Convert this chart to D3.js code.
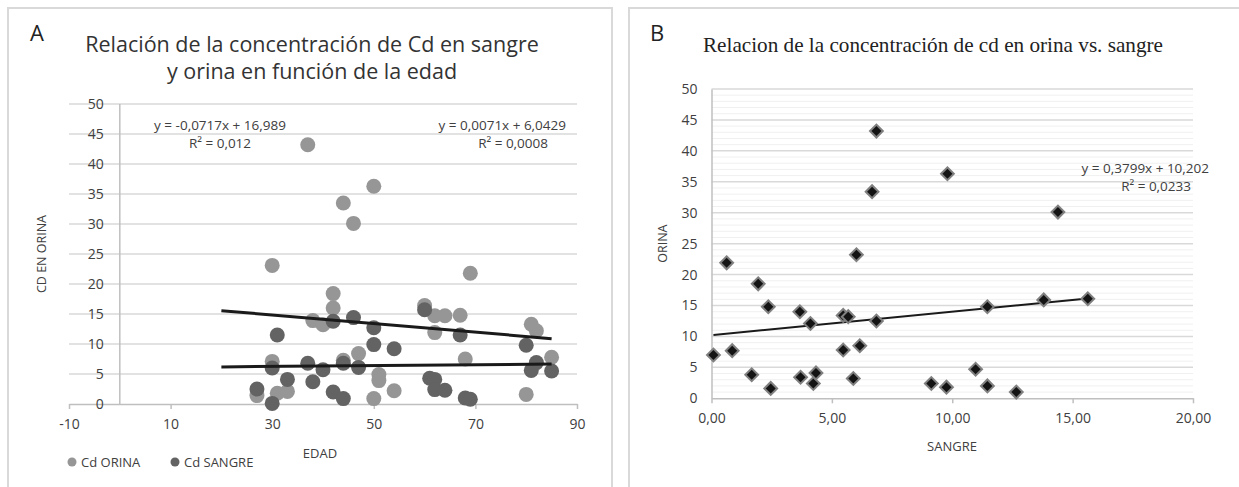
<!DOCTYPE html>
<html>
<meta charset="utf-8">
<head>
    <script src="https://d3js.org/d3.v7.min.js"></script>
</head>

<style>
  body { margin: 0; background: #fff; }
  svg text { font-family: "Open Sans", sans-serif; fill: #404040; }
  svg .grid line { stroke: #d9d9d9; stroke-width: 1.5; }
  svg .grid-minor line { stroke: #f0f0f0; stroke-width: 1; }
  svg .axis path, svg .axis line { stroke: #bfbfbf; stroke-width: 1.5; }
  svg .axis text { font-size: 14px; fill: #404040; }
  svg .frame { fill: none; stroke: #d9d9d9; stroke-width: 2; }
</style>

<body>
<script>
// Panel A: Cd en orina / sangre vs edad
var edadOrina = [37, 50, 44, 46, 30, 69, 42, 42, 60, 38, 40, 62, 64, 67, 62, 81, 82, 47, 30, 44, 68, 85, 51, 51, 31, 33, 27, 50, 54, 80];
var cdOrina   = [43.2, 36.3, 33.5, 30.1, 23.1, 21.8, 18.4, 16.0, 16.4, 13.9, 13.2, 14.7, 14.7, 14.8, 11.9, 13.3, 12.2, 8.4, 7.1, 7.3, 7.5, 7.8, 4.9, 3.9, 1.8, 2.1, 1.4, 0.9, 2.2, 1.6];

var edadSangre = [42, 46, 50, 31, 50, 54, 30, 37, 40, 44, 47, 33, 27, 30, 38, 42, 44, 60, 67, 80, 82, 81, 85, 61, 62, 62, 64, 68, 69];
var cdSangre   = [13.8, 14.4, 12.7, 11.5, 9.9, 9.2, 6.0, 6.8, 5.7, 6.8, 6.1, 4.1, 2.5, 0.1, 3.7, 2.0, 0.9, 15.7, 11.5, 9.8, 6.9, 5.6, 5.5, 4.3, 4.1, 2.4, 2.3, 1.0, 0.8];

var trendOrinaA  = { m: -0.0717, b: 16.989, x0: 20, x1: 85 };
var trendSangreA = { m: 0.0071,  b: 6.0429, x0: 20, x1: 85 };
var eqOrinaA  = ["y = -0,0717x + 16,989", "R² = 0,012"];
var eqSangreA = ["y = 0,0071x + 6,0429", "R² = 0,0008"];
var xTicksA = [-10, 10, 30, 50, 70, 90];
var yTicksA = d3.range(0, 51, 5);

// Panel B: orina vs sangre
var sangreB = [0.08, 0.63, 0.86, 1.67, 1.94, 2.36, 2.46, 3.67, 3.70, 4.11, 4.23, 4.34, 5.47, 5.68, 5.47, 5.89, 6.02, 6.16, 6.67, 6.85, 6.85,
               9.80, 14.39, 11.46, 13.80, 15.63, 10.97, 9.13, 9.76, 11.46, 12.66];
var orinaB  = [7.0, 21.9, 7.7, 3.8, 18.5, 14.8, 1.6, 14.0, 3.4, 12.1, 2.4, 4.1, 13.4, 13.2, 7.8, 3.2, 23.2, 8.5, 33.4, 43.2, 12.5,
               36.3, 30.1, 14.8, 15.9, 16.1, 4.7, 2.4, 1.8, 2.0, 1.0];
var trendB = { m: 0.3799, b: 10.202 };
var eqB = ["y = 0,3799x + 10,202", "R² = 0,0233"];
var xTicksB = [0, 5, 10, 15, 20];
var yTicksB = d3.range(0, 51, 5);

var width = 1239, height = 487;

var svg = d3.select("body").append("svg")
    .attr("width", width)
    .attr("height", height);

var comma = d3.formatLocale({ decimal: ",", thousands: ".", grouping: [3], currency: ["", ""], minus: "-" });

// ---------- panel A ----------
var a = svg.append("g").attr("id", "panelA");

a.append("path").attr("class", "frame").attr("d", "M8,487V8H612V487");

var xA = d3.scaleLinear().domain([-10, 90]).range([69, 577]);
var yA = d3.scaleLinear().domain([0, 50]).range([404, 104]);

a.append("text").attr("x", 37).attr("y", 41).attr("text-anchor", "middle")
    .style("font-size", "22px").style("fill", "#222").text("A");

a.append("text").attr("x", 312).attr("y", 52).attr("text-anchor", "middle")
    .style("font-size", "21.5px").style("fill", "#333")
    .text("Relación de la concentración de Cd en sangre");
a.append("text").attr("x", 312).attr("y", 79).attr("text-anchor", "middle")
    .style("font-size", "21.5px").style("fill", "#333")
    .text("y orina en función de la edad");

a.append("g").attr("class", "grid")
  .selectAll("line")
  .data(yTicksA.filter(function(d) { return d > 0; }))
  .enter().append("line")
    .attr("x1", xA(-10)).attr("x2", xA(90))
    .attr("y1", function(d) { return yA(d); })
    .attr("y2", function(d) { return yA(d); });

a.append("g").attr("class", "axis")
    .attr("transform", "translate(0," + yA(0) + ")")
    .call(d3.axisBottom(xA).tickValues(xTicksA).tickFormat(comma.format("d"))
        .tickSizeInner(5).tickSizeOuter(0).tickPadding(10));

a.append("g").attr("class", "axis")
    .attr("transform", "translate(" + xA(0) + ",0)")
    .call(d3.axisLeft(yA).tickValues(yTicksA).tickSize(0).tickPadding(16))
    .call(function(g) { g.select(".domain").attr("d", "M0," + yA(50) + "V" + yA(0)); });

a.append("text")
    .attr("transform", "translate(46," + yA(25) + ") rotate(-90)")
    .attr("text-anchor", "middle").style("font-size", "12.5px")
    .text("CD EN ORINA");
a.append("text").attr("x", 320).attr("y", 458).attr("text-anchor", "middle")
    .style("font-size", "13px").text("EDAD");

var ptsA = a.append("g");
ptsA.selectAll("circle.orina")
  .data(d3.zip(edadOrina, cdOrina))
  .enter().append("circle")
    .attr("class", "orina")
    .attr("cx", function(d) { return xA(d[0]); })
    .attr("cy", function(d) { return yA(d[1]); })
    .attr("r", 7.5)
    .attr("fill", "#969696");
ptsA.selectAll("circle.sangre")
  .data(d3.zip(edadSangre, cdSangre))
  .enter().append("circle")
    .attr("class", "sangre")
    .attr("cx", function(d) { return xA(d[0]); })
    .attr("cy", function(d) { return yA(d[1]); })
    .attr("r", 7.5)
    .attr("fill", "#636363");

[trendOrinaA, trendSangreA].forEach(function(t) {
    a.append("line")
      .attr("x1", xA(t.x0)).attr("y1", yA(t.m * t.x0 + t.b))
      .attr("x2", xA(t.x1)).attr("y2", yA(t.m * t.x1 + t.b))
      .attr("stroke", "#1a1a1a").attr("stroke-width", 3);
});

a.append("text").attr("x", 220).attr("y", 130).attr("text-anchor", "middle")
    .style("font-size", "13.5px").text(eqOrinaA[0]);
a.append("text").attr("x", 220).attr("y", 148).attr("text-anchor", "middle")
    .style("font-size", "13.5px").text(eqOrinaA[1]);
a.append("text").attr("x", 566).attr("y", 130).attr("text-anchor", "end")
    .style("font-size", "13.5px").text(eqSangreA[0]);
a.append("text").attr("x", 548).attr("y", 148).attr("text-anchor", "end")
    .style("font-size", "13.5px").text(eqSangreA[1]);

// legend
var legA = a.append("g").attr("transform", "translate(72,462)");
var legItems = [["Cd ORINA", "#969696", 0], ["Cd SANGRE", "#636363", 103]];
legItems.forEach(function(it) {
    legA.append("circle").attr("cx", it[2]).attr("cy", 0).attr("r", 4.5).attr("fill", it[1]);
    legA.append("text").attr("x", it[2] + 9).attr("y", 5).style("font-size", "13px").text(it[0]);
});

// ---------- panel B ----------
var b = svg.append("g").attr("id", "panelB");

b.append("path").attr("class", "frame").attr("d", "M629,487V8H1239");

var xB = d3.scaleLinear().domain([0, 20]).range([711.5, 1193]);
var yB = d3.scaleLinear().domain([0, 50]).range([398.3, 89]);

b.append("text").attr("x", 657).attr("y", 41).attr("text-anchor", "middle")
    .style("font-size", "22px").style("fill", "#222").text("B");

b.append("text").attr("x", 933).attr("y", 52).attr("text-anchor", "middle")
    .style("font-family", "'Liberation Serif', serif")
    .style("font-size", "21.2px").style("fill", "#222")
    .text("Relacion de la concentración de cd en orina vs. sangre");

b.append("g").attr("class", "grid-minor")
  .selectAll("line")
  .data(d3.range(1, 50).filter(function(d) { return d % 5 !== 0; }))
  .enter().append("line")
    .attr("x1", xB(0)).attr("x2", xB(20))
    .attr("y1", function(d) { return yB(d); })
    .attr("y2", function(d) { return yB(d); });

b.append("g").attr("class", "grid")
  .selectAll("line")
  .data(yTicksB.filter(function(d) { return d > 0; }))
  .enter().append("line")
    .attr("x1", xB(0)).attr("x2", xB(20))
    .attr("y1", function(d) { return yB(d); })
    .attr("y2", function(d) { return yB(d); });

b.append("g").attr("class", "axis")
    .attr("transform", "translate(0," + yB(0) + ")")
    .call(d3.axisBottom(xB).tickValues(xTicksB).tickFormat(comma.format(".2f"))
        .tickSizeInner(5).tickSizeOuter(0).tickPadding(10));

b.append("g").attr("class", "axis")
    .attr("transform", "translate(" + xB(0) + ",0)")
    .call(d3.axisLeft(yB).tickValues(yTicksB).tickSize(0).tickPadding(14));

b.append("text")
    .attr("transform", "translate(667," + yB(25) + ") rotate(-90)")
    .attr("text-anchor", "middle").style("font-size", "12.5px")
    .text("ORINA");
b.append("text").attr("x", 952).attr("y", 451).attr("text-anchor", "middle")
    .style("font-size", "13px").text("SANGRE");

var xr = d3.extent(sangreB);
b.append("line")
    .attr("x1", xB(xr[0])).attr("y1", yB(trendB.m * xr[0] + trendB.b))
    .attr("x2", xB(xr[1])).attr("y2", yB(trendB.m * xr[1] + trendB.b))
    .attr("stroke", "#1a1a1a").attr("stroke-width", 2);

b.append("g").selectAll("path")
  .data(d3.zip(sangreB, orinaB))
  .enter().append("path")
    .attr("d", d3.symbol().type(d3.symbolSquare).size(82))
    .attr("transform", function(d) { return "translate(" + xB(d[0]) + "," + yB(d[1]) + ") rotate(45)"; })
    .attr("fill", "#141414")
    .attr("stroke", "#808080")
    .attr("stroke-width", 2);

b.append("text").attr("x", 1209).attr("y", 173).attr("text-anchor", "end")
    .style("font-size", "13.5px").text(eqB[0]);
b.append("text").attr("x", 1191).attr("y", 191).attr("text-anchor", "end")
    .style("font-size", "13.5px").text(eqB[1]);
</script>
</body>
</html>
